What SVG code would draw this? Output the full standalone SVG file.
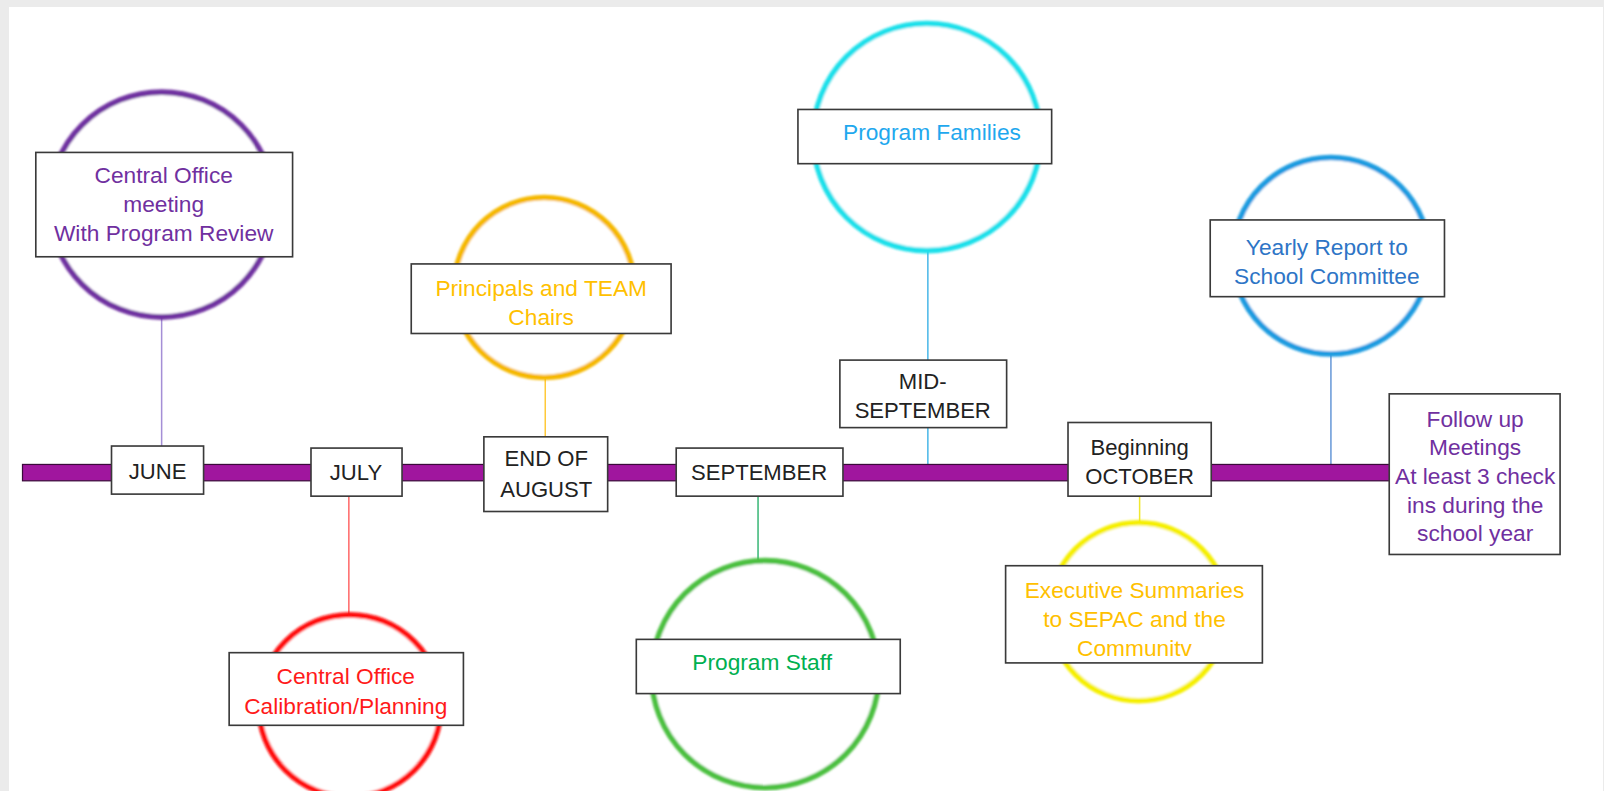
<svg xmlns="http://www.w3.org/2000/svg" width="1604" height="791" viewBox="0 0 1604 791">
<style>
text{font-family:"Liberation Sans",Arial,sans-serif;text-anchor:middle}
.box{fill:#fff;stroke:#3a3a3a;stroke-width:1.6}
.ring{fill:#fff;stroke-width:5.5;filter:url(#soft)}
.m{font-size:21.6px;fill:#222}
.t{font-size:22.2px}
.ln{stroke-width:1.5;fill:none}
</style>
<defs>
<filter id="soft" x="-10%" y="-10%" width="120%" height="120%"><feGaussianBlur stdDeviation="0.9"/></filter>
</defs>
<rect width="1604" height="791" fill="#ebebeb"/>
<rect x="9" y="7" width="1594" height="784" fill="#fff"/>

<g transform="scale(1.023)">
<g id="connectors">
<line class="ln" x1="158" y1="310" x2="158" y2="437" stroke="#a58fd6"/>
<line class="ln" x1="341" y1="485" x2="341" y2="601" stroke="#ff6a6a"/>
<line class="ln" x1="533" y1="370" x2="533" y2="428" stroke="#ffc93a"/>
<line class="ln" x1="741" y1="485" x2="741" y2="549" stroke="#3cb878"/>
<line class="ln" x1="907" y1="245" x2="907" y2="456" stroke="#4cb8e8"/>
<line class="ln" x1="1114" y1="485" x2="1114" y2="511" stroke="#f0e830"/>
<line class="ln" x1="1301" y1="346" x2="1301" y2="456" stroke="#6a9ad8"/>
</g>

<g id="timeline">
<rect x="22" y="454" width="1338" height="16" fill="#a0169e" stroke="#3a0a3a" stroke-width="1.2"/>
</g>

<g id="june-node">
<circle class="ring" cx="158" cy="200" r="110" stroke="#7030a0"/>
<rect class="box" x="35" y="149" width="251" height="102"/>
<text class="t" fill="#7030a0"><tspan x="160" y="179">Central Office</tspan><tspan x="160" y="207">meeting</tspan><tspan x="160" y="236">With Program Review</tspan></text>
</g>
<g id="june"><rect class="box" x="109" y="436" width="90" height="47"/><text class="m" x="154" y="468">JUNE</text></g>

<g id="july-node">
<circle class="ring" cx="342" cy="690" r="89" stroke="#ff1010"/>
<rect class="box" x="224" y="638" width="229" height="71"/>
<text class="t" fill="#ff1a1a"><tspan x="338" y="669">Central Office</tspan><tspan x="338" y="698">Calibration/Planning</tspan></text>
</g>
<g id="july"><rect class="box" x="304" y="438" width="89" height="47"/><text class="m" x="348" y="469">JULY</text></g>

<g id="august-node">
<circle class="ring" cx="532" cy="281" r="88" stroke="#f5b800"/>
<rect class="box" x="402" y="258" width="254" height="68"/>
<text class="t" fill="#ffc000"><tspan x="529" y="289">Principals and TEAM</tspan><tspan x="529" y="318">Chairs</tspan></text>
</g>
<g id="august"><rect class="box" x="473" y="427" width="121" height="73"/><text class="m"><tspan x="534" y="456">END OF</tspan><tspan x="534" y="486">AUGUST</tspan></text></g>

<g id="september-node">
<circle class="ring" cx="748" cy="659" r="111" stroke="#4cc040"/>
<rect class="box" x="622" y="625" width="258" height="53"/>
<text class="t" fill="#00b050" x="745" y="655">Program Staff</text>
</g>
<g id="september"><rect class="box" x="661" y="438" width="163" height="47"/><text class="m" x="742" y="469">SEPTEMBER</text></g>

<g id="midsep-node">
<circle class="ring" cx="906" cy="134" r="111" stroke="#1ee0ea"/>
<rect class="box" x="780" y="107" width="248" height="53"/>
<text class="t" fill="#1fa8ee" x="911" y="137">Program Families</text>
</g>
<g id="midsep"><rect class="box" x="821" y="352" width="163" height="66"/><text class="m"><tspan x="902" y="380">MID-</tspan><tspan x="902" y="409">SEPTEMBER</tspan></text></g>

<g id="october-node">
<circle class="ring" cx="1113" cy="598" r="87" stroke="#f5ef00"/>
<rect class="box" x="983" y="553" width="251" height="95"/>
<text class="t" fill="#ffc000"><tspan x="1109" y="585">Executive Summaries</tspan><tspan x="1109" y="613">to SEPAC and the</tspan><tspan x="1109" y="641">Communitv</tspan></text>
</g>
<g id="october"><rect class="box" x="1044" y="413" width="140" height="72"/><text class="m"><tspan x="1114" y="445">Beginning</tspan><tspan x="1114" y="473">OCTOBER</tspan></text></g>

<g id="yearly-node">
<circle class="ring" cx="1301" cy="250" r="96" stroke="#1f9be0"/>
<rect class="box" x="1183" y="215" width="229" height="75"/>
<text class="t" fill="#2e75c6"><tspan x="1297" y="249">Yearly Report to</tspan><tspan x="1297" y="278">School Committee</tspan></text>
</g>

<g id="followup">
<rect class="box" x="1358" y="385" width="167" height="157"/>
<text class="t" fill="#7030a0"><tspan x="1442" y="417">Follow up</tspan><tspan x="1442" y="445">Meetings</tspan><tspan x="1442" y="473">At least 3 check</tspan><tspan x="1442" y="501">ins during the</tspan><tspan x="1442" y="529">school year</tspan></text>
</g>
</g>
</svg>
